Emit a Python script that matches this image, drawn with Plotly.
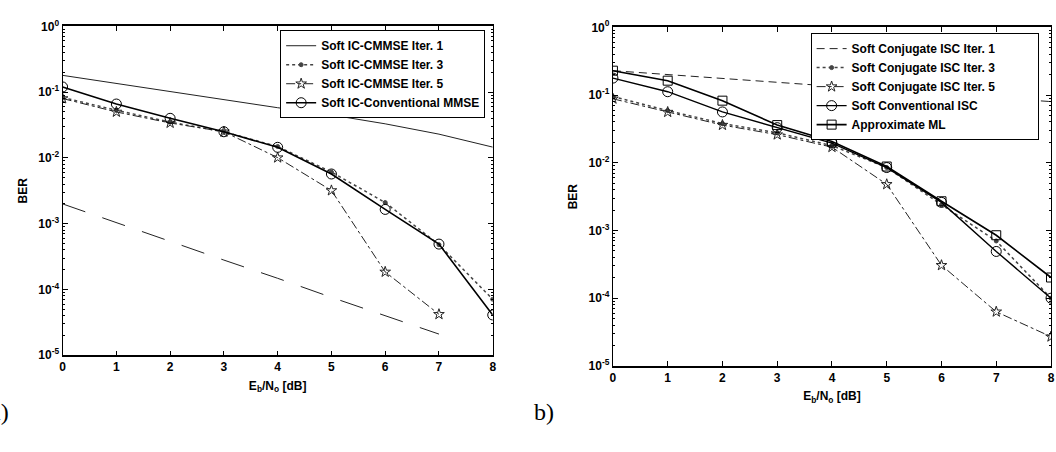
import plotly.graph_objects as go

# ---------------- data ----------------
ebno = [0, 1, 2, 3, 4, 5, 6, 7, 8]

# panel a)
a_iter1 = [0.18, 0.135, 0.101, 0.076, 0.058, 0.045, 0.033, 0.023, 0.0146]
a_iter3 = [0.083, 0.053, 0.035, 0.025, 0.0149, 0.0061, 0.0021, 0.00048, 7.1e-5]
a_iter5_x = [0, 1, 2, 3, 4, 5, 6, 7]
a_iter5 = [0.080, 0.050, 0.034, 0.025, 0.0101, 0.0032, 0.000185, 4.2e-5]
a_conv = [0.12, 0.066, 0.040, 0.025, 0.0145, 0.0057, 0.00165, 0.00049, 4.1e-5]
single_x = [0, 1, 2, 3, 4, 5, 6, 7]
single_user = [2.0e-3, 1.05e-3, 5.4e-4, 2.8e-4, 1.48e-4, 7.6e-5, 4.0e-5, 2.1e-5]

# panel b)
b_iter1 = [0.229, 0.20, 0.175, 0.155, 0.135, 0.118, 0.104, 0.091, 0.08]
b_iter3 = [0.095, 0.059, 0.038, 0.0277, 0.0179, 0.0085, 0.0024, 0.0007, 0.0001]
b_iter5 = [0.088, 0.056, 0.036, 0.026, 0.017, 0.0048, 0.000306, 6.3e-5, 2.7e-5]
b_conv = [0.178, 0.112, 0.0563, 0.033, 0.0195, 0.0085, 0.0026, 0.00049, 0.0001]
b_ml = [0.229, 0.163, 0.0826, 0.036, 0.0206, 0.0088, 0.0027, 0.00085, 0.000202]

a_names = ["Soft IC-CMMSE Iter. 1", "Soft IC-CMMSE Iter. 3",
           "Soft IC-CMMSE Iter. 5", "Soft IC-Conventional MMSE"]
b_names = ["Soft Conjugate ISC Iter. 1", "Soft Conjugate ISC Iter. 3",
           "Soft Conjugate ISC Iter. 5", "Soft Conventional ISC", "Approximate ML"]

x_ticks = [0, 1, 2, 3, 4, 5, 6, 7, 8]
y_ticks = [1e-5, 1e-4, 1e-3, 1e-2, 1e-1, 1]
y_ticktext = ["10<sup>-5</sup>", "10<sup>-4</sup>", "10<sup>-3</sup>",
              "10<sup>-2</sup>", "10<sup>-1</sup>", "10<sup>0</sup>"]
y_minor = [k * 10.0 ** e for e in range(-5, 0) for k in range(2, 10)]

# ---------------- figure ----------------
W, H = 1056, 452
FONT = "Liberation Sans, Arial, sans-serif"
PAD = "\u00a0" * 11  # widens the right legend box like the original
fig = go.Figure()


def add(x, y, name, xa, ya, leg, dash="solid", width=1.0, color="black",
        symbol=None, msize=8, mline=1.0, showlegend=True):
    mode = "lines+markers" if symbol else "lines"
    marker = dict(symbol=symbol, size=msize, color=color,
                  line=dict(color=color, width=mline)) if symbol else None
    fig.add_trace(go.Scatter(
        x=x, y=y, name=name, mode=mode, xaxis=xa, yaxis=ya, legend=leg,
        line=dict(color=color, width=width, dash=dash), marker=marker,
        showlegend=showlegend))


# panel a
add(ebno, a_iter1, a_names[0], "x", "y", "legend", width=1.0, color="#222")
add(ebno, a_iter3, a_names[1], "x", "y", "legend", dash="dot", width=1.5,
    color="#444", symbol="circle", msize=4)
add(a_iter5_x, a_iter5, a_names[2], "x", "y", "legend", dash="dashdot", width=1.0,
    color="#222", symbol="star-open", msize=8)
add(ebno, a_conv, a_names[3], "x", "y", "legend", width=1.6, color="black",
    symbol="circle-open", msize=10)
add(single_x, single_user, "Single User", "x", "y", "legend", dash="24px,18px",
    width=1.0, color="#222", showlegend=False)

# panel b
add(ebno, b_iter1, b_names[0] + PAD, "x2", "y2", "legend2", dash="8px,5px",
    width=1.0, color="#222")
add(ebno, b_iter3, b_names[1], "x2", "y2", "legend2", dash="dot", width=1.5,
    color="#444", symbol="circle", msize=4)
add(ebno, b_iter5, b_names[2], "x2", "y2", "legend2", dash="dashdot", width=1.0,
    color="#222", symbol="star-open", msize=8)
add(ebno, b_conv, b_names[3], "x2", "y2", "legend2", width=1.4, color="black",
    symbol="circle-open", msize=10)
add(ebno, b_ml, b_names[4], "x2", "y2", "legend2", width=1.6, color="black",
    symbol="square-open", msize=9)

tickfont = dict(family=FONT, size=12, color="black", weight="bold")
titlefont = dict(family=FONT, size=12, color="black", weight="bold")


def xaxis(domain, anchor):
    return dict(domain=domain, anchor=anchor, range=[0, 8], tickmode="array",
                tickvals=x_ticks, ticktext=[str(t) for t in x_ticks],
                ticks="inside", ticklen=5, tickcolor="black", mirror="ticks",
                showline=True, linecolor="black", linewidth=1.5, showgrid=False,
                zeroline=False, tickfont=tickfont,
                title=dict(text="E<sub>b</sub>/N<sub>o</sub> [dB]",
                           font=titlefont, standoff=8))


def yaxis(domain, anchor):
    return dict(domain=domain, anchor=anchor, type="log", range=[-5, 0],
                tickmode="array", tickvals=y_ticks, ticktext=y_ticktext,
                ticks="inside", ticklen=5, tickcolor="black", mirror="ticks",
                minor=dict(tickmode="array", tickvals=y_minor, ticks="inside",
                           ticklen=2, tickcolor="black"),
                showline=True, linecolor="black", linewidth=1.2, showgrid=False,
                zeroline=False, tickfont=tickfont,
                title=dict(text="BER", font=titlefont, standoff=8))


legend_style = dict(bgcolor="white", bordercolor="black", borderwidth=1,
                    font=dict(family=FONT, size=12, color="black", weight="bold"),
                    itemwidth=30, xanchor="left", yanchor="top",
                    tracegroupgap=0, itemclick=False)

fig.update_layout(
    width=W, height=H,
    margin=dict(l=0, r=0, t=0, b=0),
    paper_bgcolor="white", plot_bgcolor="white",
    font=dict(family=FONT, size=12, color="black"),
    xaxis=xaxis([60 / W, 493 / W], "y"),
    yaxis=yaxis([(H - 359) / H, (H - 18) / H], "x"),
    xaxis2=xaxis([614 / W, 1055 / W], "y2"),
    yaxis2=yaxis([(H - 370) / H, (H - 19) / H], "x2"),
    legend=dict(x=279 / W, y=(H - 22) / H, **legend_style),
    legend2=dict(x=813 / W, y=(H - 25) / H, **legend_style),
    showlegend=True,
)

# "Single User" annotation with arrow (arrow head on the single-user curve)
arrow_x, arrow_y = 2.87, 10 ** -3.59
fig.add_annotation(x=arrow_x, y=arrow_y, xref="x", yref="y",
                   text="Single User", showarrow=True, arrowhead=2,
                   arrowsize=1.2, arrowwidth=1.2, arrowcolor="black",
                   ax=-49, ay=56,
                   font=dict(family=FONT, size=12, color="black", weight="bold"))

# panel labels
fig.add_annotation(x=8 / W, y=(H - 418) / H, xref="paper", yref="paper",
                   text="a)", showarrow=False, xanchor="right", yanchor="middle",
                   font=dict(family="Liberation Serif, Times New Roman, serif",
                             size=24, color="black"))
fig.add_annotation(x=533 / W, y=(H - 418) / H, xref="paper", yref="paper",
                   text="b)", showarrow=False, xanchor="left", yanchor="middle",
                   font=dict(family="Liberation Serif, Times New Roman, serif",
                             size=24, color="black"))

fig.write_html("out.html")
